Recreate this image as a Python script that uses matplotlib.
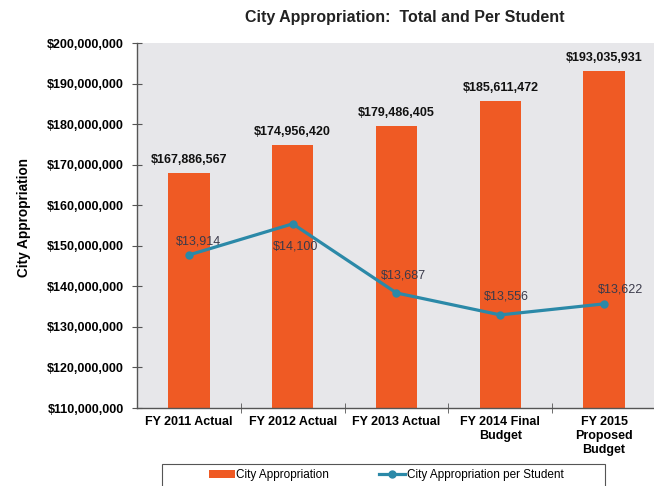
import matplotlib
matplotlib.use("Agg")
import matplotlib.pyplot as plt
import matplotlib.patches as mpatches
import numpy as np

# data
categories = ["FY 2011 Actual", "FY 2012 Actual", "FY 2013 Actual",
              "FY 2014 Final\nBudget", "FY 2015\nProposed\nBudget"]
appropriation = [167886567, 174956420, 179486405, 185611472, 193035931]
per_student = [13914, 14100, 13687, 13556, 13622]
yticks = [110000000, 120000000, 130000000, 140000000, 150000000,
          160000000, 170000000, 180000000, 190000000, 200000000]

bar_color = "#ef5a24"
line_color = "#2b89a8"
plot_bg = "#e7e7ea"

plt.rcParams['font.family'] = ['Liberation Sans', 'DejaVu Sans']

fig = plt.figure(figsize=(6.54, 4.86), dpi=100)
fig.patch.set_facecolor("white")
ax = fig.add_axes([137/654, 78/486, 519/654, 365/486])
ax.set_facecolor(plot_bg)

x = np.arange(len(categories))
bars = ax.bar(x, appropriation, width=0.4, color=bar_color, zorder=2,
              label="City Appropriation")
ax.set_ylim(110000000, 200000000)
ax.set_xlim(-0.5, len(categories) - 0.5)
ax.set_yticks(yticks)
ax.set_yticklabels(["${:,}".format(v) for v in yticks], fontsize=9, fontweight='bold')
ax.set_xticks(x)
ax.set_xticklabels(categories, fontsize=9, fontweight='bold', multialignment='center')
ax.tick_params(axis='x', which='major', length=0, pad=6)
ax.set_xticks(x[:-1] + 0.5, minor=True)
ax.tick_params(axis='x', which='minor', direction='inout', length=7, color='#555555')
ax.tick_params(axis='y', direction='inout', length=7, color='#555555', pad=6)

for s in ['top', 'right']:
    ax.spines[s].set_visible(False)
for s in ['left', 'bottom']:
    ax.spines[s].set_color('#555555')
    ax.spines[s].set_linewidth(1.0)

for b, v in zip(bars, appropriation):
    ax.annotate("${:,}".format(v), (b.get_x() + b.get_width() / 2, v),
                xytext=(0, 5), textcoords='offset points', ha='center', va='bottom',
                fontsize=9, fontweight='bold', color='#111111')

ax.set_ylabel("City Appropriation", fontsize=9.8, fontweight='bold')
ax.yaxis.set_label_coords(-0.204, 0.523)

# per student line on a hidden secondary axis
ax2 = ax.twinx()
line, = ax2.plot(x, per_student, color=line_color, linewidth=2.3, marker='o',
                 markersize=5, zorder=3, label="City Appropriation per Student")
ax2.set_ylim(13000, 15180)
ax2.axis('off')

label_offsets = [(10, 13), (3, -23), (7, 17), (6, 18), (16, 14)]
for xi, v, off in zip(x, per_student, label_offsets):
    ax2.annotate("${:,}".format(v), (xi, v), xytext=off, textcoords='offset pixels',
                 ha='center', va='center', fontsize=9, color='#3a3a4a')

fig.text(405/654, 0.963, "City Appropriation:  Total and Per Student",
         ha='center', va='center', fontsize=11.5, fontweight='bold', color='#222222')

# legend box drawn separately so it can be wider than its contents
frame = mpatches.Rectangle((162/654, -0.02), 443/654, (486 - 464)/486 + 0.02,
                           transform=fig.transFigure, facecolor='white',
                           edgecolor='#555555', linewidth=0.8)
fig.add_artist(frame)
leg = fig.legend([bars, line], ["City Appropriation", "City Appropriation per Student"],
                 loc='center', bbox_to_anchor=(386/654, 11/486), ncol=2,
                 fontsize=8.5, frameon=False,
                 handlelength=2.2, handletextpad=0.15, columnspacing=4.2,
                 borderpad=0, borderaxespad=0)

fig.savefig("out.png", dpi=100)
